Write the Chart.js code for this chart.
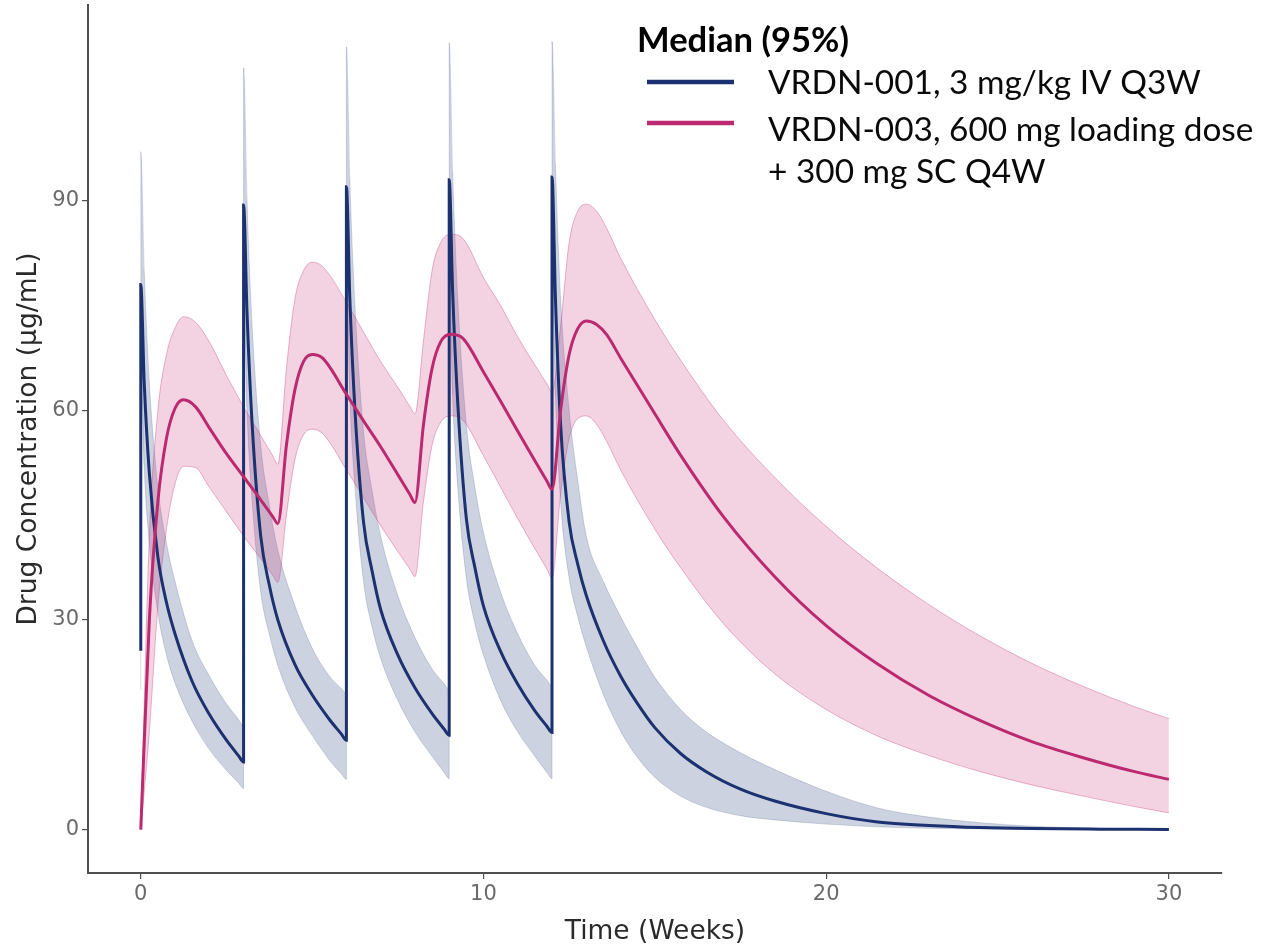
<!DOCTYPE html>
<html>
<head>
<meta charset="utf-8">
<script src="https://cdn.jsdelivr.net/npm/chart.js@4.4.1/dist/chart.umd.min.js"></script>
<style>
  html, body { margin: 0; padding: 0; background: #ffffff; }
  canvas { display: block; }
</style>
</head>
<body>
<canvas id="c" width="1261" height="948"></canvas>
<script>
// ---- Data ----
const xTickValues = [0, 10, 20, 30];
const yTickValues = [0, 30, 60, 90];

const legendTitle = 'Median (95%)';
const seriesNames = ['VRDN-001, 3 mg/kg IV Q3W', 'VRDN-003, 600 mg loading dose', '+ 300 mg SC Q4W'];

// VRDN-001 (IV Q3W) – time in weeks
const blueT = [
  0, 0, 0.1, 0.25, 0.5, 0.75, 1, 1.5, 2, 2.5, 2.85, 3,
  3, 3.1, 3.25, 3.5, 3.75, 4, 4.5, 5, 5.5, 5.85, 6,
  6, 6.1, 6.25, 6.5, 6.75, 7, 7.5, 8, 8.5, 8.85, 9,
  9, 9.1, 9.25, 9.5, 9.75, 10, 10.5, 11, 11.5, 11.85, 12,
  12, 12.1, 12.25, 12.5, 12.75, 13, 13.5, 14, 14.5, 15, 15.75, 16.5, 17.5, 18.5, 20, 21.5, 23, 24.5, 26, 28, 30
];
const blueMedian = [
  25.6, 78, 64, 51, 39, 32.5, 28, 21.2, 16.5, 12.8, 10.6, 9.7,
  89.4, 74, 58, 42, 35, 30, 23.6, 19.3, 15.8, 13.7, 12.8,
  92, 76, 60, 44, 37, 31.5, 25, 20.3, 16.6, 14.4, 13.5,
  93, 77, 61, 44.5, 37.5, 32, 25.5, 20.8, 17, 14.8, 13.9,
  93.4, 76, 58, 44, 38, 33.5, 27, 22, 18, 14.6, 10.9, 8.3, 5.8, 4.1, 2.3, 1.1, 0.6, 0.3, 0.15, 0.07, 0.03
];
const blueLower = [
  20, 68, 52, 41, 31, 25, 21, 15.5, 11.5, 8.5, 6.7, 5.9,
  78, 60, 47, 34, 28, 23.5, 17.5, 13.5, 10, 8.0, 7.2,
  80, 62, 49, 35.5, 29, 24.5, 18.5, 14, 10.5, 8.2, 7.3,
  80, 62, 49, 36, 29.5, 25, 18.5, 14, 10.5, 8.2, 7.3,
  80, 62, 47, 36, 30.5, 26.2, 19.3, 14.1, 10.3, 7.5, 4.8, 3.2, 2.0, 1.4, 0.8, 0.4, 0.2, 0.1, 0.05, 0.02, 0.01
];
const blueUpper = [
  35, 97, 80, 64, 49, 41, 35.5, 27, 22, 18, 15.8, 14.8,
  109, 90, 72, 55, 46.5, 40, 32, 26, 22, 20.2, 19.5,
  112, 93, 75, 57, 48.5, 42, 33.5, 27.5, 23, 20.9, 20,
  112.6, 94, 76, 58, 49, 42.5, 34, 28, 23.5, 21.4, 20.5,
  112.8, 95, 76, 60, 50, 42, 35.5, 30.5, 26, 21.8, 17.2, 14, 11, 8.6, 5.5, 3.1, 1.8, 1.0, 0.5, 0.2, 0.1
];

// VRDN-003 (600 mg loading + 300 mg SC Q4W)
const pinkT = [
  0, 0.25, 0.5, 0.75, 1, 1.25, 1.6, 2, 2.5, 3, 3.5, 3.85, 4,
  4.25, 4.5, 4.75, 5, 5.3, 6, 6.5, 7, 7.5, 7.85, 8,
  8.25, 8.5, 8.75, 9.05, 9.4, 10, 10.5, 11, 11.5, 11.85, 12,
  12.25, 12.5, 12.75, 13, 13.3, 13.6, 14, 15, 15.75, 17, 18.5, 20, 21.5, 23, 24.5, 26, 27.5, 29, 30
];
const pinkMedian = [
  0, 30, 47, 56, 60.3, 61.5, 60.5, 57.5, 53.8, 50.5, 47.2, 44.8, 43.8,
  55, 63, 67, 68, 67.5, 62.3, 58.5, 54.8, 50.8, 48, 46.8,
  58, 66, 69.8, 70.9, 70.3, 65.5, 61.3, 57, 52.8, 49.9, 48.7,
  60, 68, 71.7, 72.8, 72.3, 70.8, 67.5, 59.5, 53.6, 44.8, 36.2, 29.2, 23.7, 19.2, 15.6, 12.6, 10.3, 8.3, 7.2
];
const pinkLower = [
  0, 14, 32, 43, 49.5, 52, 51.8, 49, 45.5, 42, 38.8, 36.4, 35.4,
  45, 53, 56.5, 57.3, 56.7, 51.5, 47.5, 43.5, 39.8, 37.3, 36.2,
  47, 55, 58.3, 59.2, 58.6, 53.5, 49, 44.5, 40.2, 37.3, 36,
  48, 56, 58.8, 59.2, 58, 55.5, 51.5, 43, 37.5, 29.5, 22.3, 17.2, 13.4, 10.6, 8.3, 6.4, 4.8, 3.3, 2.4
];
const pinkUpper = [
  0, 42, 60, 68, 71.8, 73.4, 72.6, 69.8, 65, 60.5, 56.4, 53.5, 52.3,
  66, 76, 80, 81.2, 80.6, 75.5, 71.2, 67, 63.3, 60.6, 59.5,
  70, 80, 84, 85.2, 84.6, 79, 75, 70.5, 66.5, 63.8, 62.6,
  72, 84, 88.5, 89.5, 88.5, 86, 81.8, 73, 67.2, 58.6, 50.4, 43.4, 37.4, 32.2, 27.7, 23.8, 20.5, 17.6, 15.9
];

// ---- Styles ----
const BLUE = '#1b3170';
const PINK = '#bb2a6e';
const BLUE_FILL = 'rgba(27,49,112,0.22)';
const BLUE_EDGE = 'rgba(27,49,112,0.18)';
const PINK_FILL = 'rgba(196,48,118,0.21)';
const PINK_EDGE = 'rgba(196,48,118,0.35)';
const AXIS = '#505050';
const TICK_TEXT = '#6a6a6a';
const TITLE_TEXT = '#2a2a2a';

const pts = (ts, vs) => ts.map((t, i) => ({ x: t, y: vs[i] }));

const lineBase = { pointRadius: 0, pointHoverRadius: 0, cubicInterpolationMode: 'monotone' };

const datasets = [
  Object.assign({ label: 'blueLo', data: pts(blueT, blueLower), borderColor: BLUE_EDGE, borderWidth: 1, fill: false, order: 5 }, lineBase),
  Object.assign({ label: 'blueHi', data: pts(blueT, blueUpper), borderColor: BLUE_EDGE, borderWidth: 1, backgroundColor: BLUE_FILL, fill: 0, order: 4 }, lineBase),
  Object.assign({ label: 'pinkLo', data: pts(pinkT, pinkLower), borderColor: PINK_EDGE, borderWidth: 1, fill: false, order: 3 }, lineBase),
  Object.assign({ label: 'pinkHi', data: pts(pinkT, pinkUpper), borderColor: PINK_EDGE, borderWidth: 1, backgroundColor: PINK_FILL, fill: 2, order: 2 }, lineBase),
  Object.assign({ label: seriesNames[0], data: pts(blueT, blueMedian), borderColor: BLUE, borderWidth: 3, fill: false, order: 1 }, lineBase),
  Object.assign({ label: seriesNames[1], data: pts(pinkT, pinkMedian), borderColor: PINK, borderWidth: 3, fill: false, order: 0 }, lineBase)
];

const legendPlugin = {
  id: 'customLegend',
  afterDraw(chart) {
    const ctx = chart.ctx;
    ctx.save();
    ctx.textBaseline = 'middle';
    ctx.textAlign = 'left';
    ctx.fillStyle = '#000';
    ctx.font = 'bold 34.6px Lato, "Noto Sans", sans-serif';
    ctx.fillText(legendTitle, 637, 41);
    ctx.lineWidth = 4.5;
    ctx.lineCap = 'butt';
    ctx.strokeStyle = BLUE;
    ctx.beginPath(); ctx.moveTo(647, 82); ctx.lineTo(734, 82); ctx.stroke();
    ctx.strokeStyle = PINK;
    ctx.beginPath(); ctx.moveTo(647, 123); ctx.lineTo(734, 123); ctx.stroke();
    ctx.fillStyle = '#0a0a0a';
    ctx.font = '33.4px Lato, "Noto Sans", sans-serif';
    ctx.fillText(seriesNames[0], 768, 83);
    ctx.fillText(seriesNames[1], 768, 130);
    ctx.fillText(seriesNames[2], 768, 172);
    ctx.restore();
  }
};

new Chart(document.getElementById('c'), {
  type: 'line',
  data: { datasets },
  options: {
    responsive: false,
    animation: false,
    events: [],
    layout: { padding: { left: 0, right: 39, top: 5, bottom: 0 } },
    plugins: { legend: { display: false }, tooltip: { enabled: false } },
    scales: {
      x: {
        type: 'linear',
        min: -1.54, max: 31.55,
        afterBuildTicks: (axis) => { axis.ticks = xTickValues.map(v => ({ value: v })); },
        afterFit: (s) => { s.height = 75; s.paddingLeft = 0; s.paddingRight = 0; },
        grid: { display: true, drawOnChartArea: false, drawTicks: true, tickLength: 6, color: AXIS, lineWidth: 1.2 },
        border: { display: true, color: AXIS, width: 2 },
        ticks: { color: TICK_TEXT, font: { family: '"DejaVu Sans"', size: 21 }, padding: 3, maxRotation: 0, autoSkip: false },
        title: { display: true, text: 'Time (Weeks)', color: TITLE_TEXT, font: { family: '"DejaVu Sans"', size: 26.5 }, padding: { top: 0, bottom: 0 } }
      },
      y: {
        type: 'linear',
        min: -6.2, max: 118,
        afterBuildTicks: (axis) => { axis.ticks = yTickValues.map(v => ({ value: v })); },
        afterFit: (s) => { s.width = 88; s.paddingTop = 0; s.paddingBottom = 0; },
        grid: { display: true, drawOnChartArea: false, drawTicks: true, tickLength: 6, color: AXIS, lineWidth: 1.2 },
        border: { display: true, color: AXIS, width: 2 },
        ticks: { color: TICK_TEXT, font: { family: '"DejaVu Sans"', size: 21 }, padding: 3, autoSkip: false },
        title: { display: true, text: 'Drug Concentration (μg/mL)', color: TITLE_TEXT, font: { family: '"DejaVu Sans"', size: 26.5 }, padding: { top: 13, bottom: 0 } }
      }
    }
  },
  plugins: [legendPlugin]
});
</script>
</body>
</html>
